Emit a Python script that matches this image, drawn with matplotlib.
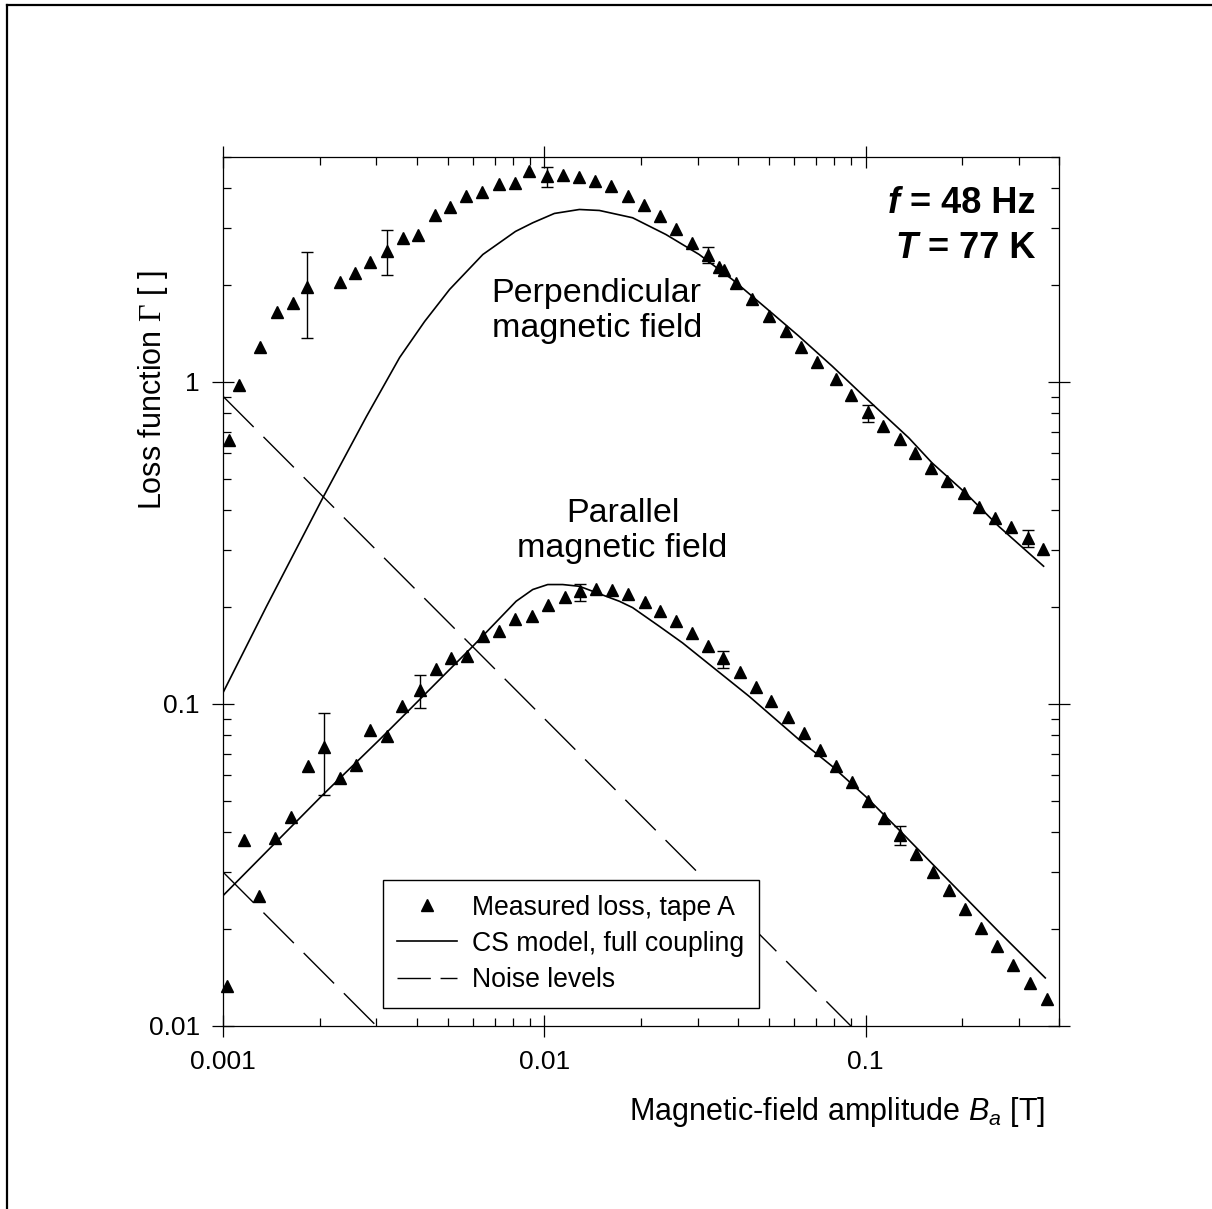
import numpy as np
import matplotlib
matplotlib.use('Agg')
import matplotlib.pyplot as plt
from matplotlib.lines import Line2D
from matplotlib.ticker import LogLocator, NullFormatter

plt.rcParams['font.family'] = ['Liberation Sans', 'DejaVu Sans']
plt.rcParams['mathtext.fontset'] = 'custom'
plt.rcParams['mathtext.rm'] = 'Liberation Sans'
plt.rcParams['mathtext.it'] = 'Liberation Sans:italic'
plt.rcParams['mathtext.bf'] = 'Liberation Sans:bold'
plt.rcParams['mathtext.cal'] = 'Liberation Serif'

# measured loss, perpendicular field
perp_x = [0.001044, 0.00112, 0.001303, 0.001469, 0.001643, 0.001829, 0.002306, 0.002579,
          0.002858, 0.003244, 0.003627, 0.004049, 0.004550, 0.005066, 0.005681, 0.006403,
          0.007211, 0.008107, 0.008937, 0.01020, 0.01140, 0.01279, 0.01440, 0.01616,
          0.01824, 0.02046, 0.02290, 0.02572, 0.02878, 0.03233, 0.03499, 0.03626,
          0.03961, 0.04441, 0.05016, 0.05641, 0.06294, 0.07071, 0.08066, 0.09020,
          0.1017, 0.1134, 0.1278, 0.1423, 0.1599, 0.1798, 0.2021, 0.2255,
          0.2523, 0.2843, 0.3195, 0.3556]
perp_y = [0.659, 0.976, 1.284, 1.653, 1.754, 1.972, 2.039, 2.181,
          2.352, 2.544, 2.786, 2.853, 3.285, 3.495, 3.771, 3.880,
          4.109, 4.150, 4.521, 4.350, 4.394, 4.319, 4.188, 4.050,
          3.771, 3.528, 3.268, 2.987, 2.702, 2.473, 2.270, 2.232,
          2.020, 1.810, 1.598, 1.436, 1.284, 1.150, 1.017, 0.907,
          0.805, 0.728, 0.664, 0.602, 0.539, 0.493, 0.450, 0.409,
          0.378, 0.355, 0.328, 0.3035]

# measured loss, parallel field
par_x = [0.001025, 0.001157, 0.001294, 0.001448, 0.001620, 0.001834, 0.002052, 0.002311,
         0.002585, 0.002864, 0.003244, 0.003612, 0.004087, 0.004583, 0.005113, 0.005734,
         0.006432, 0.007246, 0.008126, 0.009131, 0.01027, 0.01156, 0.01291, 0.01448,
         0.01624, 0.01820, 0.02050, 0.02290, 0.02572, 0.02878, 0.03233, 0.03608,
         0.04058, 0.04551, 0.05089, 0.05734, 0.06432, 0.07194, 0.08101, 0.09087,
         0.1019, 0.1140, 0.1278, 0.1440, 0.1616, 0.1815, 0.2046, 0.2294,
         0.2573, 0.2884, 0.3249, 0.3661]
par_y = [0.01327, 0.0379, 0.0254, 0.03836, 0.04458, 0.0640, 0.0733, 0.0589,
         0.0645, 0.0828, 0.0796, 0.0988, 0.1108, 0.1284, 0.1392, 0.1405,
         0.1630, 0.1689, 0.1837, 0.1880, 0.2030, 0.2150, 0.2244, 0.2276,
         0.2259, 0.2190, 0.2068, 0.1939, 0.1805, 0.1662, 0.1510, 0.1389,
         0.1253, 0.1129, 0.1024, 0.0911, 0.0813, 0.0718, 0.0640, 0.0571,
         0.0501, 0.0443, 0.0393, 0.0343, 0.0301, 0.0265, 0.0230, 0.0202,
         0.0177, 0.0155, 0.0136, 0.0121]

# error bars (x, y, lower, upper)
perp_eb_x = [0.001829, 0.003244, 0.01020, 0.03233, 0.1017, 0.3195]
perp_eb_y = [1.972, 2.544, 4.350, 2.473, 0.805, 0.328]
perp_eb_lo = [1.363, 2.139, 4.021, 2.330, 0.751, 0.308]
perp_eb_hi = [2.533, 2.957, 4.652, 2.618, 0.846, 0.346]
par_eb_x = [0.002052, 0.004087, 0.01291, 0.03608, 0.1278]
par_eb_y = [0.0733, 0.1108, 0.2244, 0.1389, 0.0393]
par_eb_lo = [0.0523, 0.0972, 0.2093, 0.1290, 0.0365]
par_eb_hi = [0.0938, 0.1233, 0.2363, 0.1464, 0.0419]

# CS model, full coupling
perp_model_x = [0.001, 0.001364, 0.002046, 0.002791, 0.003542, 0.004236, 0.005066, 0.006432,
                0.008126, 0.009197, 0.01074, 0.01285, 0.01483, 0.01882, 0.02389, 0.03033,
                0.03848, 0.04890, 0.06204, 0.07874, 0.1, 0.1363, 0.1611, 0.2046,
                0.2597, 0.3583]
perp_model_y = [0.1087, 0.2009, 0.438, 0.780, 1.190, 1.539, 1.935, 2.485,
                2.930, 3.117, 3.332, 3.428, 3.404, 3.231, 2.867, 2.485,
                2.078, 1.697, 1.385, 1.118, 0.892, 0.670, 0.560, 0.452,
                0.356, 0.2676]
par_model_x = [0.001, 0.002046, 0.003069, 0.003542, 0.005986, 0.008166, 0.009197, 0.01024,
               0.0114, 0.01285, 0.01711, 0.01882, 0.02278, 0.02691, 0.03417, 0.04337,
               0.06204, 0.07874, 0.1, 0.1269, 0.1612, 0.2046, 0.2597, 0.3627]
par_model_y = [0.02543, 0.0523, 0.0775, 0.0894, 0.1510, 0.2083, 0.2265, 0.2347,
               0.2347, 0.2318, 0.2083, 0.1990, 0.1742, 0.1547, 0.1278, 0.1056,
               0.0775, 0.0640, 0.0516, 0.0407, 0.0319, 0.02503, 0.01963, 0.0141]

# noise levels
noise_hi_x = [0.001, 0.09]
noise_hi_y = [0.9, 0.01]
noise_lo_x = [0.001, 0.003]
noise_lo_y = [0.03, 0.01]

fig = plt.figure(figsize=(12.12, 12.09), dpi=100)
ax = fig.add_axes([0.1842, 0.1514, 0.6895, 0.7190])

dash = (31, 10)
ax.plot(noise_hi_x, noise_hi_y, color='k', lw=1.0, dashes=dash)
ax.plot(noise_lo_x, noise_lo_y, color='k', lw=1.0, dashes=dash)
ax.plot(perp_model_x, perp_model_y, color='k', lw=1.2)
ax.plot(par_model_x, par_model_y, color='k', lw=1.2)

for ex, ey, lo, hi in [(perp_eb_x, perp_eb_y, perp_eb_lo, perp_eb_hi),
                       (par_eb_x, par_eb_y, par_eb_lo, par_eb_hi)]:
    ex = np.array(ex); ey = np.array(ey)
    yerr = [ey - np.array(lo), np.array(hi) - ey]
    ax.errorbar(ex, ey, yerr=yerr, fmt='none', ecolor='k', elinewidth=1.0,
                capsize=4, capthick=1.0)

ax.plot(perp_x, perp_y, ls='none', marker='^', ms=9, color='k', clip_on=False)
ax.plot(par_x, par_y, ls='none', marker='^', ms=9, color='k', clip_on=False)

ax.set_xscale('log')
ax.set_yscale('log')
ax.set_xlim(0.001, 0.4)
ax.set_ylim(0.01, 5)
ax.set_xticks([0.001, 0.01, 0.1])
ax.set_xticklabels(['0.001', '0.01', '0.1'])
ax.set_yticks([0.01, 0.1, 1])
ax.set_yticklabels(['0.01', '0.1', '1'])
for axis in [ax.xaxis, ax.yaxis]:
    axis.set_minor_locator(LogLocator(base=10, subs=np.arange(2, 10)))
    axis.set_minor_formatter(NullFormatter())
ax.tick_params(which='major', direction='inout', length=16, width=0.9,
               top=True, right=True, labelsize=19, pad=9)
ax.tick_params(which='minor', direction='in', length=6, width=0.9,
               top=True, right=True)
for s in ax.spines.values():
    s.set_linewidth(0.9)

ax.set_xlabel(r'Magnetic-field amplitude $B_a$ [T]', fontsize=22)
ax.xaxis.set_label_coords(0.9833, -0.0989)
ax.xaxis.label.set_ha('right')
ax.xaxis.label.set_va('center')
ax.set_ylabel(r'Loss function $\mathcal{\Gamma}$ [ ]', fontsize=22)
ax.yaxis.set_label_coords(-0.084, 0.7316)
ax.yaxis.label.set_va('center')
ax.yaxis.label.set_ha('center')

ax.text(0.4468, 0.8225, 'Perpendicular\nmagnetic field', transform=ax.transAxes,
        fontsize=24.5, ha='center', va='center', multialignment='center')
ax.text(0.4777, 0.5694, 'Parallel\nmagnetic field', transform=ax.transAxes,
        fontsize=24.5, ha='center', va='center', multialignment='center')

t1 = ax.text(0.9713, 0.9349, ' = 48 Hz', transform=ax.transAxes, fontsize=26,
             fontweight='bold', ha='right', va='baseline')
ax.annotate('f', xy=(0, 0), xycoords=t1, fontsize=26, fontweight='bold',
            fontstyle='italic', ha='right', va='bottom')
t2 = ax.text(0.9713, 0.8831, ' = 77 K', transform=ax.transAxes, fontsize=26,
             fontweight='bold', ha='right', va='baseline')
ax.annotate('T', xy=(0, 0), xycoords=t2, fontsize=26, fontweight='bold',
            fontstyle='italic', ha='right', va='bottom')

handles = [Line2D([], [], ls='none', marker='^', ms=9, color='k'),
           Line2D([], [], color='k', lw=1.2),
           Line2D([], [], color='k', lw=1.0, dashes=(24, 7))]
labels = ['Measured loss, tape A', 'CS model, full coupling', 'Noise levels']
leg = ax.legend(handles, labels, loc='upper left', bbox_to_anchor=(0.1907, 0.168),
                borderaxespad=0, fontsize=19.2, handlelength=2.25, handletextpad=0.55,
                labelspacing=0.38, borderpad=0.55, fancybox=False, framealpha=1)
leg.get_frame().set_edgecolor('k')
leg.get_frame().set_linewidth(1.0)

# page frame lines (left and top)
fig.add_artist(Line2D([7/1212, 7/1212], [0, 1 - 5/1209], transform=fig.transFigure,
                      color='k', lw=1.6))
fig.add_artist(Line2D([7/1212, 1], [1 - 5/1209, 1 - 5/1209], transform=fig.transFigure,
                      color='k', lw=1.6))

fig.savefig('out.png', dpi=100)
